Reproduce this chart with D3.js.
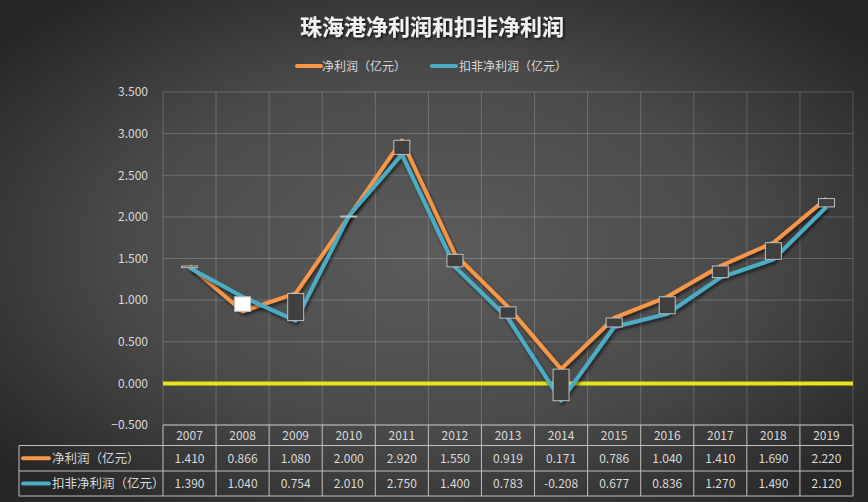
<!DOCTYPE html>
<html><head><meta charset="utf-8">
<script src="https://cdn.jsdelivr.net/npm/d3@7/dist/d3.min.js"></script>
<style>
html,body{margin:0;padding:0;background:#333;}
svg{display:block;}
text{font-family:"Noto Sans CJK SC","Microsoft YaHei",sans-serif;}
</style></head>
<body>
<svg id="c" width="868" height="502"></svg>
<script>
const years = ["2007","2008","2009","2010","2011","2012","2013","2014","2015","2016","2017","2018","2019"];
const netProfit = [1.410,0.866,1.080,2.000,2.920,1.550,0.919,0.171,0.786,1.040,1.410,1.690,2.220];
const deducted = [1.390,1.040,0.754,2.010,2.750,1.400,0.783,-0.208,0.677,0.836,1.270,1.490,2.120];
const yTicks = [-0.5,0,0.5,1.0,1.5,2.0,2.5,3.0,3.5];
const seriesNames = ["净利润（亿元）","扣非净利润（亿元）"];
const seriesColors = ["#f79646","#4bacc6"];
const title = "珠海港净利润和扣非净利润";

const W=868,H=502;
const svg=d3.select("#c");
const defs=svg.append("defs");
const rg=defs.append("radialGradient").attr("id","bg").attr("cx","50%").attr("cy","50%").attr("r","65%");
rg.append("stop").attr("offset","0%").attr("stop-color","#5c5c5c");
rg.append("stop").attr("offset","55%").attr("stop-color","#4a4a4a");
rg.append("stop").attr("offset","100%").attr("stop-color","#262626");
const f=defs.append("filter").attr("id","sh").attr("x","-10%").attr("y","-10%").attr("width","120%").attr("height","130%");
f.append("feDropShadow").attr("dx",1.5).attr("dy",2.5).attr("stdDeviation",1.5).attr("flood-color","#000").attr("flood-opacity",0.55);
const tf=defs.append("filter").attr("id","tsh");
tf.append("feDropShadow").attr("dx",1.5).attr("dy",1.5).attr("stdDeviation",1).attr("flood-color","#000").attr("flood-opacity",0.7);

svg.append("rect").attr("width",W).attr("height",H).attr("fill","url(#bg)");

const L=163,R=853,T=92,B=425;
const x=d3.scaleBand().domain(years).range([L,R]);
const y=d3.scaleLinear().domain([-0.5,3.5]).range([B,T]);

// title
svg.append("text").attr("x",432).attr("y",35).attr("text-anchor","middle")
  .attr("font-size",22).attr("font-weight","bold").attr("fill","#f2f2f2").attr("filter","url(#tsh)").text(title);

// legend
const leg=[{x:297,tx:322},{x:432,tx:459}];
seriesNames.forEach((n,i)=>{
  svg.append("line").attr("x1",leg[i].x).attr("x2",leg[i].x+24).attr("y1",66).attr("y2",66)
    .attr("stroke",seriesColors[i]).attr("stroke-width",4).attr("stroke-linecap","round");
  svg.append("text").attr("x",leg[i].tx).attr("y",70.5).attr("font-size",12).attr("fill","#d9d9d9").text(n);
});

// grid
const g=svg.append("g");
g.selectAll(".hg").data(yTicks).join("line")
  .attr("x1",L).attr("x2",R).attr("y1",d=>y(d)).attr("y2",d=>y(d))
  .attr("stroke","#ffffff").attr("stroke-opacity",0.2).attr("stroke-width",1);
const bounds=years.map(d=>x(d)).concat([R]);
g.selectAll(".vg").data(bounds).join("line")
  .attr("x1",d=>d).attr("x2",d=>d).attr("y1",T).attr("y2",B)
  .attr("stroke","#ffffff").attr("stroke-opacity",0.2).attr("stroke-width",1);

// y axis labels
const ya=d3.axisLeft(y).tickValues(yTicks).tickFormat(d3.format(".3f")).tickSize(0).tickPadding(15);
const yg=svg.append("g").attr("transform",`translate(${L},0)`).call(ya);
yg.select(".domain").remove();
yg.selectAll("text").attr("font-size",12).attr("fill","#d9d9d9").attr("font-family","'Noto Sans CJK SC',sans-serif");

// zero line
svg.append("line").attr("x1",L).attr("x2",R).attr("y1",y(0)).attr("y2",y(0))
  .attr("stroke","#e5e51a").attr("stroke-width",4);

// lines
const cx=d=>x(d)+x.bandwidth()/2;
const line=d3.line().x((d,i)=>cx(years[i])).y(d=>y(d));
[netProfit,deducted].forEach((s,i)=>{
  svg.append("path").datum(s).attr("d",line).attr("fill","none")
    .attr("stroke",seriesColors[i]).attr("stroke-width",4).attr("stroke-linejoin","round")
    .attr("filter","url(#sh)");
});

// up-down bars
const bw=16;
svg.selectAll(".ud").data(years).join("rect")
  .attr("x",d=>cx(d)-bw/2)
  .attr("y",(d,i)=>y(Math.max(netProfit[i],deducted[i])))
  .attr("width",bw)
  .attr("height",(d,i)=>Math.max(1,Math.abs(y(netProfit[i])-y(deducted[i]))))
  .attr("fill",(d,i)=>deducted[i]>netProfit[i]?"#ffffff":"#404040")
  .attr("stroke","#bfbfbf").attr("stroke-width",1);

// data table
const r0=425,r1=445.5,r2=471,r3=496,TL=19;
const tc="#bfbfbf";
const tg=svg.append("g").attr("stroke",tc).attr("stroke-width",1);
tg.append("line").attr("x1",L).attr("x2",R).attr("y1",r0).attr("y2",r0);
[r1,r2,r3].forEach(v=>tg.append("line").attr("x1",TL).attr("x2",R).attr("y1",v).attr("y2",v));
bounds.forEach(v=>tg.append("line").attr("x1",v).attr("x2",v).attr("y1",r0).attr("y2",r3));
tg.append("line").attr("x1",TL).attr("x2",TL).attr("y1",r1).attr("y2",r3);

svg.selectAll(".yr").data(years).join("text")
  .attr("x",d=>cx(d)).attr("y",(r0+r1)/2+4.5).attr("text-anchor","middle")
  .attr("font-size",12).attr("fill","#d9d9d9").text(d=>d);
[netProfit,deducted].forEach((s,i)=>{
  const ry=[(r1+r2)/2,(r2+r3)/2][i];
  svg.selectAll(".v"+i).data(s).join("text")
    .attr("x",(d,j)=>cx(years[j])).attr("y",ry+4.5).attr("text-anchor","middle")
    .attr("font-size",12).attr("fill","#d9d9d9").text(d=>d3.format(".3f")(d).replace("−","-"));
  svg.append("line").attr("x1",23).attr("x2",49).attr("y1",ry).attr("y2",ry)
    .attr("stroke",seriesColors[i]).attr("stroke-width",4).attr("stroke-linecap","round");
  svg.append("text").attr("x",52).attr("y",ry+4.5).attr("font-size",12.5).attr("fill","#d9d9d9").text(seriesNames[i]);
});
</script>
</body></html>
